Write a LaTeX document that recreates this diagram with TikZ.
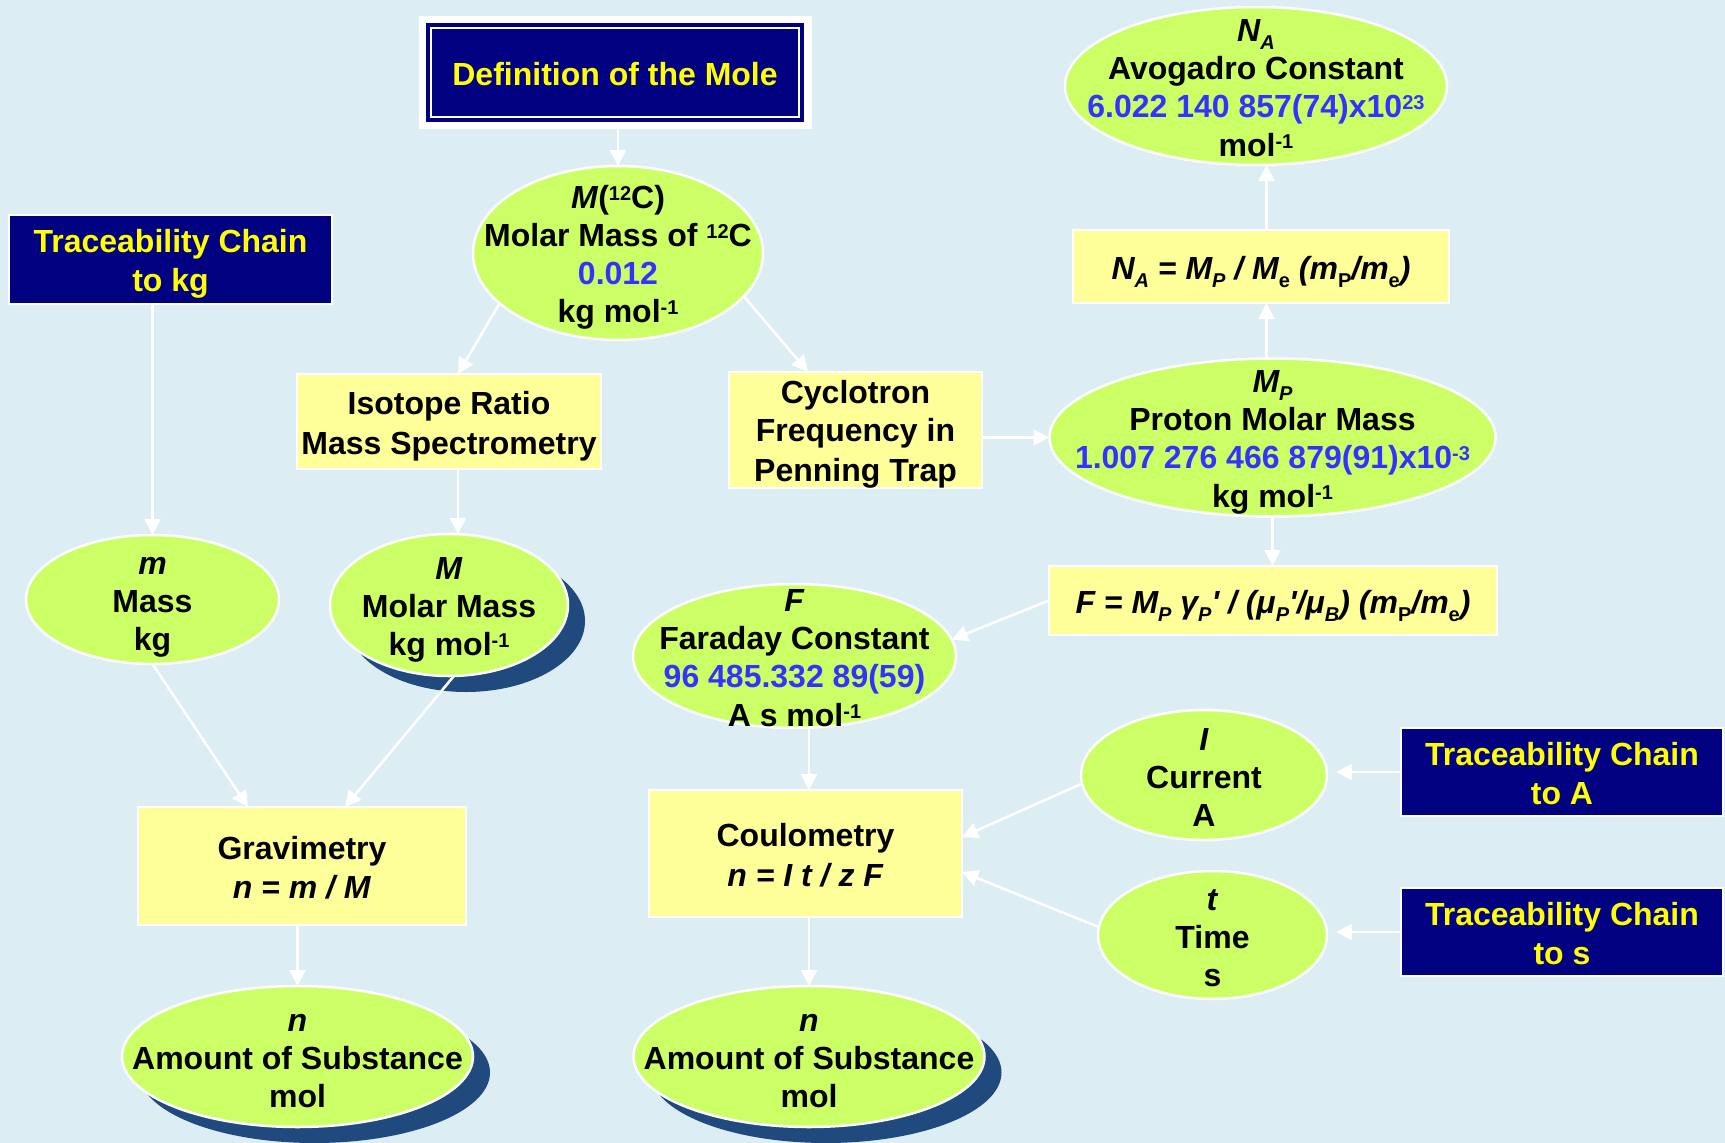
\documentclass[tikz,border=0pt]{standalone}
\usepackage{fontspec}
\setmainfont{Liberation Sans}
\usetikzlibrary{arrows.meta,shapes.geometric,shadows,calc}
\definecolor{bgc}{RGB}{220,237,243}
\definecolor{lime}{RGB}{204,255,102}
\definecolor{boxy}{RGB}{255,255,153}
\definecolor{navyc}{RGB}{0,0,128}
\definecolor{txty}{RGB}{255,255,0}
\definecolor{numb}{RGB}{51,51,255}
\definecolor{shad}{RGB}{32,73,126}
\newcommand\tstr{\rule[-6pt]{0pt}{38pt}}
\newcommand\sups[1]{\raisebox{8pt}[0pt][0pt]{\fontsize{20}{20}\selectfont #1}}
\newcommand\subs[1]{\raisebox{-8pt}[0pt][0pt]{\fontsize{20}{20}\selectfont #1}}
\begin{document}
\begin{tikzpicture}[x=1pt,y=-1pt,
  every node/.style={font=\fontsize{32}{38}\selectfont\bfseries, align=center, inner sep=0pt, outer sep=0pt},
  ell/.style={ellipse, fill=lime, draw=white, line width=2.5pt},
  shd/.style={drop shadow={shadow xshift=17pt, shadow yshift=-16pt, fill=shad, opacity=1}},
  ybox/.style={rectangle, fill=boxy, draw=white, line width=2.5pt},
  nbox/.style={rectangle, fill=navyc, draw=white, line width=2.5pt, text=txty},
  conn/.style={draw=white, line width=2.6pt, -{Triangle[width=16pt,length=16pt]}}]
\fill[bgc] (0,0) rectangle (1725,1143);
\useasboundingbox (0,0) rectangle (1725,1143);

% Definition of the Mole
\node[fill=white, minimum width=393pt, minimum height=113pt] (defo) at (615.5,72.5) {};
\node[fill=navyc, minimum width=378pt, minimum height=99pt] (def) at (615,72.5) {};
\draw[white, line width=1.3pt] ($(def.north west)+(5,5)$) rectangle ($(def.south east)+(-5,-5)$);
\node[text=txty] (defT) at (def) {\tstr Definition of the Mole\tstr};

% ellipses
\node[ell, minimum width=290pt, minimum height=174pt] (m12c) at (618,253) {};
\node (m12cT) at (m12c) {\tstr\textit{M}(\sups{12}C)\\Molar Mass of \sups{12}C\\{\color{numb}0.012}\\kg mol\sups{-1}\tstr};

\node[ell, minimum width=382pt, minimum height=158pt] (na) at (1256,86) {};
\node (naT) at (na) {\tstr\textit{N\subs{A}}\\Avogadro Constant\\{\color{numb}6.022 140 857(74)x10\sups{23}}\\mol\sups{-1}\tstr};

\node[ell, minimum width=446pt, minimum height=158pt] (mp) at (1272.5,437.5) {};
\node (mpT) at (mp) {\tstr\textit{M\subs{P}}\\Proton Molar Mass\\{\color{numb}1.007 276 466 879(91)x10\sups{-3}}\\kg mol\sups{-1}\tstr};

\node[ell, minimum width=253pt, minimum height=129pt] (m) at (152.5,599.5) {};
\node (mT) at (m) {\tstr\textit{m}\\Mass\\kg\tstr};

\node[ell, shd, minimum width=238pt, minimum height=142pt] (molar) at (449,605) {};
\node (molarT) at (molar) {\tstr\textit{M}\\Molar Mass\\kg mol\sups{-1}\tstr};

\node[ell, minimum width=323pt, minimum height=144pt] (far) at (794.5,656) {};
\node (farT) at (far) {\tstr\textit{F}\\Faraday Constant\\{\color{numb}96 485.332 89(59)}\\A s mol\sups{-1}\tstr};

\node[ell, shd, minimum width=351pt, minimum height=141pt] (nl) at (297.5,1056.5) {};
\node (nlT) at (nl) {\tstr\textit{n}\\Amount of Substance\\mol\tstr};

\node[ell, shd, minimum width=351pt, minimum height=141pt] (nr) at (809,1056.5) {};
\node (nrT) at (nr) {\tstr\textit{n}\\Amount of Substance\\mol\tstr};

\node[ell, minimum width=246pt, minimum height=130pt] (cur) at (1204,775) {};
\node (curT) at (cur) {\tstr\textit{I}\\Current\\A\tstr};

\node[ell, minimum width=229pt, minimum height=128pt] (time) at (1212.5,935) {};
\node (timeT) at (time) {\tstr\textit{t}\\Time\\s\tstr};

% boxes
\node[nbox, minimum width=323pt, minimum height=89pt] (tkg) at (170.5,259.5) {\tstr Traceability Chain\\to kg\tstr};
\node[nbox, minimum width=322pt, minimum height=88pt] (tA) at (1562,772) {\tstr Traceability Chain\\to A\tstr};
\node[nbox, minimum width=322pt, minimum height=88pt] (tS) at (1562,932) {\tstr Traceability Chain\\to s\tstr};

\node[ybox, minimum width=304pt, minimum height=95pt] (iso) at (449,421.5) {\tstr Isotope Ratio\\Mass Spectrometry\tstr};
\node[ybox, minimum width=253pt, minimum height=112pt] (cyc) at (855.5,430) {\tstr Cyclotron\\Frequency in\\Penning Trap\tstr};
\node[ybox, minimum width=376pt, minimum height=73pt] (nabox) at (1261,266.5) {\tstr\textit{N\subs{A} = M\subs{P} / M\subs{\textup{e}} (m\subs{\textup{P}}/m\subs{\textup{e}})}\tstr};
\node[ybox, minimum width=448pt, minimum height=69pt] (fbox) at (1273,600.5) {\tstr\textit{F = M\subs{P} γ\subs{P}\textquotesingle{} / (μ\subs{P}\textquotesingle/μ\subs{B}) (m\subs{\textup{P}}/m\subs{\textup{e}})}\tstr};
\node[ybox, minimum width=328pt, minimum height=118pt] (grav) at (302,866) {\tstr Gravimetry\\\textit{n = m / M}\tstr};
\node[ybox, minimum width=313pt, minimum height=127pt] (coul) at (805.5,853.5) {\tstr Coulometry\\\textit{n = I t / z F}\tstr};

% connectors
\coordinate (vx) at ($(mp.north)+(-6,0)$);
\coordinate (ix) at ($(iso.south)+(9,0)$);
\draw[conn] (m12c.north |- defo.south) -- (m12c.north);
\draw[conn] (m12c.203) -- ($(iso.north)+(9,0)$);
\draw[conn] (m12c.341) -- ($(cyc.north)+(-47.5,0)$);
\draw[conn] (cyc.east |- mp.west) -- (mp.west);
\draw[conn] (vx) -- (vx |- nabox.south);
\draw[conn] (vx |- nabox.north) -- (vx |- na.south);
\draw[conn] (mp.south) -- (mp.south |- fbox.north);
\draw[conn] (fbox.west) -- (far.6);
\draw[conn] (m.north |- tkg.south) -- (m.north);
\draw[conn] (ix) -- (ix |- molar.north);
\draw[conn] (m.south) -- ($(grav.north)+(-54,0)$);
\draw[conn] (molar.274) -- ($(grav.north)+(43,0)$);
\draw[conn] (nl.north |- grav.south) -- (nl.north);
\draw[conn] (nr.north |- far.south) -- (nr.north |- coul.north);
\draw[conn] (nr.north |- coul.south) -- (nr.north);
\draw[conn] (cur.184) -- ($(coul.east)+(0,-16.5)$);
\draw[conn] (time.176) -- ($(coul.east)+(0,18.5)$);
\draw[conn, shorten >=9pt] (tA.west) -- (tA.west -| cur.east);
\draw[conn, shorten >=9pt] (tS.west) -- (tS.west -| time.east);
\end{tikzpicture}
\end{document}
